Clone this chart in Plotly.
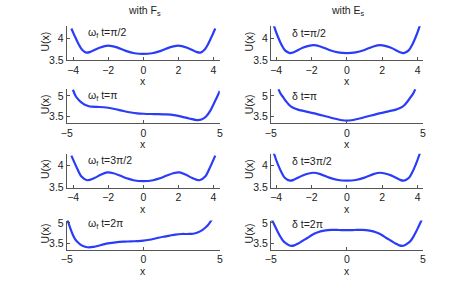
import plotly.graph_objects as go

# ---------------- data ----------------
# Row 1, left: omega_f t = pi/2
x_f1 = [-4.1, -3.9, -3.7, -3.5, -3.25, -3.0, -2.5, -2.0, -1.5, -1.0, -0.5, 0.0,
        0.5, 1.0, 1.5, 2.0, 2.5, 3.0, 3.25, 3.5, 3.7, 3.9, 4.1]
u_f1 = [4.22, 4.04, 3.87, 3.74, 3.67, 3.69, 3.78, 3.83, 3.79, 3.71, 3.655, 3.64,
        3.655, 3.71, 3.79, 3.83, 3.78, 3.69, 3.67, 3.74, 3.87, 4.04, 4.22]
# Row 1, right: delta t = pi/2
x_e1 = [-4.25, -4.1, -3.9, -3.7, -3.5, -3.22, -3.0, -2.5, -1.9, -1.5, -1.0, -0.5, 0.0,
        0.5, 1.0, 1.5, 1.9, 2.5, 3.0, 3.22, 3.5, 3.7, 3.9, 4.1, 4.25]
u_e1 = [4.45, 4.25, 4.03, 3.85, 3.72, 3.66, 3.68, 3.78, 3.84, 3.81, 3.73, 3.675, 3.66,
        3.675, 3.73, 3.81, 3.84, 3.78, 3.68, 3.66, 3.72, 3.85, 4.03, 4.25, 4.45]
# Row 2, left: omega_f t = pi
x_f2 = [-4.6, -4.45, -4.27, -4.05, -3.85, -3.6, -3.4, -3.0, -2.6, -2.2, -1.8, -1.3,
        -0.8, -0.4, 0.0, 0.5, 1.0, 1.5, 2.0, 2.5, 3.0, 3.5, 3.8, 4.1, 4.4, 4.6, 4.8, 5.0]
u_f2 = [5.45, 5.05, 4.76, 4.52, 4.36, 4.25, 4.2, 4.18, 4.16, 4.1, 4.01, 3.88,
        3.77, 3.71, 3.68, 3.66, 3.65, 3.63, 3.58, 3.47, 3.33, 3.21, 3.25, 3.48, 3.95, 4.4, 4.88, 5.36]
# Row 2, right: delta t = pi
x_e2 = [-4.5, -4.35, -4.18, -4.0, -3.76, -3.5, -3.22, -2.8, -2.38, -1.95, -1.53, -1.1,
        -0.68, -0.3, 0.0, 0.3, 0.68, 1.1, 1.53, 1.95, 2.38, 2.8, 3.22, 3.5, 3.76, 4.0,
        4.18, 4.35, 4.5]
u_e2 = [5.48, 5.15, 4.88, 4.6, 4.29, 4.1, 3.98, 3.87, 3.76, 3.65, 3.53, 3.4,
        3.29, 3.2, 3.17, 3.2, 3.29, 3.4, 3.53, 3.65, 3.76, 3.87, 3.98, 4.1, 4.29, 4.6,
        4.88, 5.15, 5.48]
# Row 3, left: omega_f t = 3pi/2
x_f3 = [-4.1, -3.82, -3.54, -3.2, -2.79, -2.4, -2.05, -1.7, -1.3, -0.9, -0.56, 0.0,
        0.56, 0.9, 1.3, 1.7, 2.05, 2.4, 2.79, 3.2, 3.54, 3.82, 4.1]
u_f3 = [4.23, 3.98, 3.76, 3.67, 3.72, 3.8, 3.85, 3.83, 3.77, 3.71, 3.67, 3.65,
        3.67, 3.71, 3.77, 3.83, 3.85, 3.8, 3.72, 3.67, 3.76, 3.98, 4.23]
# Row 3, right: delta t = 3pi/2
x_e3 = [-4.25, -4.1, -3.9, -3.7, -3.5, -3.22, -3.0, -2.5, -1.9, -1.5, -1.0, -0.5, 0.0,
        0.5, 1.0, 1.5, 1.9, 2.5, 3.0, 3.22, 3.5, 3.7, 3.9, 4.1, 4.25]
u_e3 = [4.45, 4.25, 4.03, 3.85, 3.72, 3.66, 3.68, 3.78, 3.84, 3.81, 3.73, 3.675, 3.66,
        3.675, 3.73, 3.81, 3.84, 3.78, 3.68, 3.66, 3.72, 3.85, 4.03, 4.25, 4.45]
# Row 4, left: omega_f t = 2pi
x_f4 = [-5.0, -4.8, -4.6, -4.45, -4.25, -4.06, -3.8, -3.53, -3.25, -2.99, -2.6, -2.2,
        -1.71, -1.2, -0.8, -0.4, 0.0, 0.4, 0.85, 1.3, 1.71, 2.1, 2.5, 2.9, 3.25,
        3.55, 3.85, 4.1, 4.3, 4.45, 4.6]
u_f4 = [5.4, 4.69, 4.12, 3.8, 3.55, 3.38, 3.26, 3.21, 3.25, 3.31, 3.43, 3.52,
        3.6, 3.63, 3.65, 3.67, 3.7, 3.77, 3.88, 3.99, 4.07, 4.15, 4.19, 4.19, 4.21,
        4.3, 4.47, 4.7, 4.95, 5.2, 5.45]
# Row 4, right: delta t = 2pi
x_e4 = [-5.0, -4.85, -4.71, -4.55, -4.39, -4.2, -4.0, -3.72, -3.45, -3.2, -2.9, -2.6,
        -2.3, -1.95, -1.5, -1.0, -0.5, 0.0, 0.5, 1.0, 1.5, 1.95, 2.3, 2.6, 2.9, 3.2,
        3.45, 3.72, 4.0, 4.2, 4.39, 4.55, 4.71, 4.85, 5.0]
u_e4 = [5.4, 5.05, 4.72, 4.35, 4.02, 3.7, 3.5, 3.33, 3.36, 3.5, 3.7, 3.9,
        4.12, 4.3, 4.43, 4.49, 4.48, 4.47, 4.48, 4.49, 4.43, 4.3, 4.12, 3.9, 3.7, 3.5,
        3.36, 3.33, 3.5, 3.7, 4.02, 4.35, 4.72, 5.05, 5.4]

labels_f = ["ω<sub>f</sub> t=π/2", "ω<sub>f</sub> t=π", "ω<sub>f</sub> t=3π/2", "ω<sub>f</sub> t=2π"]
labels_e = ["δ t=π/2", "δ t=π", "δ t=3π/2", "δ t=2π"]
col_titles = ["with F<sub>s</sub>", "with E<sub>s</sub>"]

xticks_a = [-4, -2, 0, 2, 4]
xticks_b = [-5, 0, 5]
yticks_a = [3.5, 4]
yticks_b = [3.5, 5]
ytext_a = ["3.5", "4"]
ytext_b = ["3.5", "5"]

# ---------------- layout geometry ----------------
W, H = 471, 302
def fx(px):
    return px / W
def fy(py):
    return 1 - py / H

rows_px = [(23, 58), (88, 123), (155, 190), (224, 254)]
cols_px = [(62, 218), (270, 425)]
xr_narrow = [[-4.36, 4.36], [-4.3, 4.3]]
yranges = [[3.5, 4.27], [3.0, 5.5], [3.5, 4.27], [3.05, 5.17]]

series = [
    [(x_f1, u_f1), (x_e1, u_e1)],
    [(x_f2, u_f2), (x_e2, u_e2)],
    [(x_f3, u_f3), (x_e3, u_e3)],
    [(x_f4, u_f4), (x_e4, u_e4)],
]

fig = go.Figure()
font = dict(family="Liberation Sans, Arial, sans-serif", size=10.5, color="#222")
annotations = []
layout = dict(width=W, height=H, margin=dict(l=0, r=0, t=0, b=0),
              paper_bgcolor="white", plot_bgcolor="white", showlegend=False,
              font=font)

k = 0
for r in range(4):
    for c in range(2):
        k += 1
        xs, us = series[r][c]
        xa = "x" if k == 1 else f"x{k}"
        ya = "y" if k == 1 else f"y{k}"
        fig.add_trace(go.Scatter(x=xs, y=us, mode="lines", xaxis=xa, yaxis=ya,
                                 line=dict(color="#2b3cf8", width=2.2, shape="spline", smoothing=0.8),
                                 hoverinfo="skip"))
        narrow = r in (0, 2)
        xrange = xr_narrow[c] if narrow else [-5, 5]
        xt = xticks_a if narrow else xticks_b
        yt = yticks_a if narrow else yticks_b
        ytt = ytext_a if narrow else ytext_b
        top, bot = rows_px[r]
        left, right = cols_px[c]
        axx = dict(domain=[fx(left), fx(right)], range=xrange, anchor=ya,
                   tickvals=xt, ticks="inside", ticklen=3, tickcolor="#555",
                   showline=True, linecolor="#555", linewidth=1, showgrid=False,
                   zeroline=False, tickfont=font, fixedrange=True)
        axy = dict(domain=[fy(bot), fy(top)], range=yranges[r], anchor=xa,
                   tickvals=yt, ticktext=ytt, ticks="inside", ticklen=3, tickcolor="#555",
                   showline=True, linecolor="#555", linewidth=1, showgrid=False,
                   zeroline=False, tickfont=font, fixedrange=True)
        layout["xaxis" if k == 1 else f"xaxis{k}"] = axx
        layout["yaxis" if k == 1 else f"yaxis{k}"] = axy

        lab = labels_f[r] if c == 0 else labels_e[r]
        label_y = [30, 95, 162, 228][r]
        annotations.append(dict(text=lab, x=fx(left + 20), y=fy(label_y), xref="paper", yref="paper",
                                xanchor="left", yanchor="middle", showarrow=False, font=font))
        # x-axis label
        annotations.append(dict(text="x", x=fx((left + right) / 2), y=fy(bot + 22), xref="paper",
                                yref="paper", xanchor="center", yanchor="middle", showarrow=False,
                                font=font))
        # y-axis label
        annotations.append(dict(text="U(x)", x=fx(left - 22), y=fy((top + bot) / 2 - 2), xref="paper",
                                yref="paper", xanchor="center", yanchor="middle", showarrow=False,
                                textangle=-90, font=font))

for c in range(2):
    left, right = cols_px[c]
    annotations.append(dict(text=col_titles[c], x=fx((left + right) / 2 + 1), y=fy(7), xref="paper",
                            yref="paper", xanchor="center", yanchor="middle", showarrow=False,
                            font=font))

layout["annotations"] = annotations
fig.update_layout(**layout)
fig.write_html("out.html", config={"displayModeBar": False},
               post_script="document.body.style.margin='0px';document.body.style.overflow='hidden';")
